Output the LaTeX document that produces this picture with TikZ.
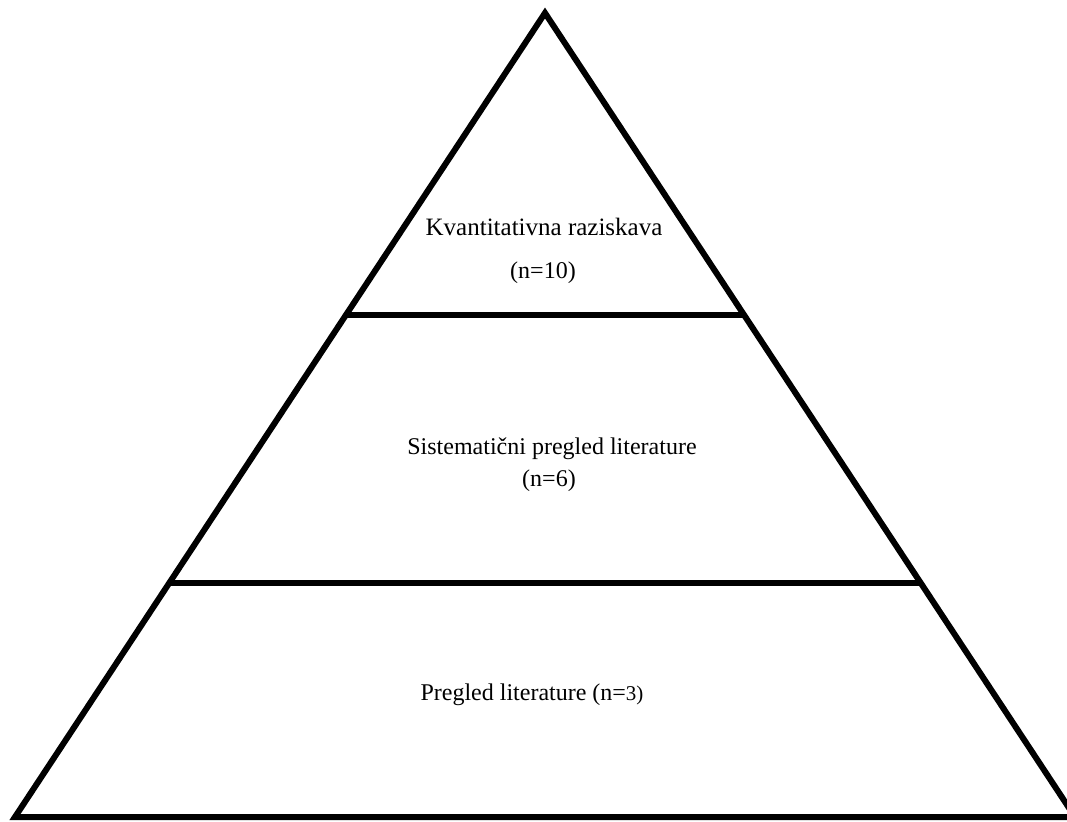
\documentclass[tikz,border=0pt]{standalone}
\usepackage{fontspec}
\setmainfont{Liberation Serif}
\usetikzlibrary{calc}
\begin{document}
\begin{tikzpicture}[x=1pt,y=-1pt,
  edge/.style={line width=6pt,line join=miter,black},
  lbl/.style={font=\fontsize{24}{28}\selectfont,inner sep=0pt,anchor=center}]
\useasboundingbox (0,0) rectangle (1067,821);
\coordinate (apex) at (545,13);
\coordinate (bl) at (15,817);
\coordinate (br) at (1075,817);
\coordinate (l1) at ($(apex)!0.3756!(bl)$);
\coordinate (r1) at ($(apex)!0.3756!(br)$);
\coordinate (l2) at ($(apex)!0.709!(bl)$);
\coordinate (r2) at ($(apex)!0.709!(br)$);
\draw[edge] (apex) -- (br) -- (bl) -- cycle;
\draw[edge] (l1) -- (r1);
\draw[edge] (l2) -- (r2);
\node[lbl,font=\fontsize{25}{30}\selectfont] (t1) at (544,227) {Kvantitativna raziskava};
\node[lbl] (t1n) at (543,273) {(n=10)};
\node[lbl] (t2) at (552,449) {Sistematični pregled literature};
\node[lbl] (t2n) at (549,481) {(n=6)};
\node[lbl] (t3) at (532,695) {Pregled literature (n={\fontsize{21}{24}\selectfont 3)}};
\end{tikzpicture}
\end{document}
